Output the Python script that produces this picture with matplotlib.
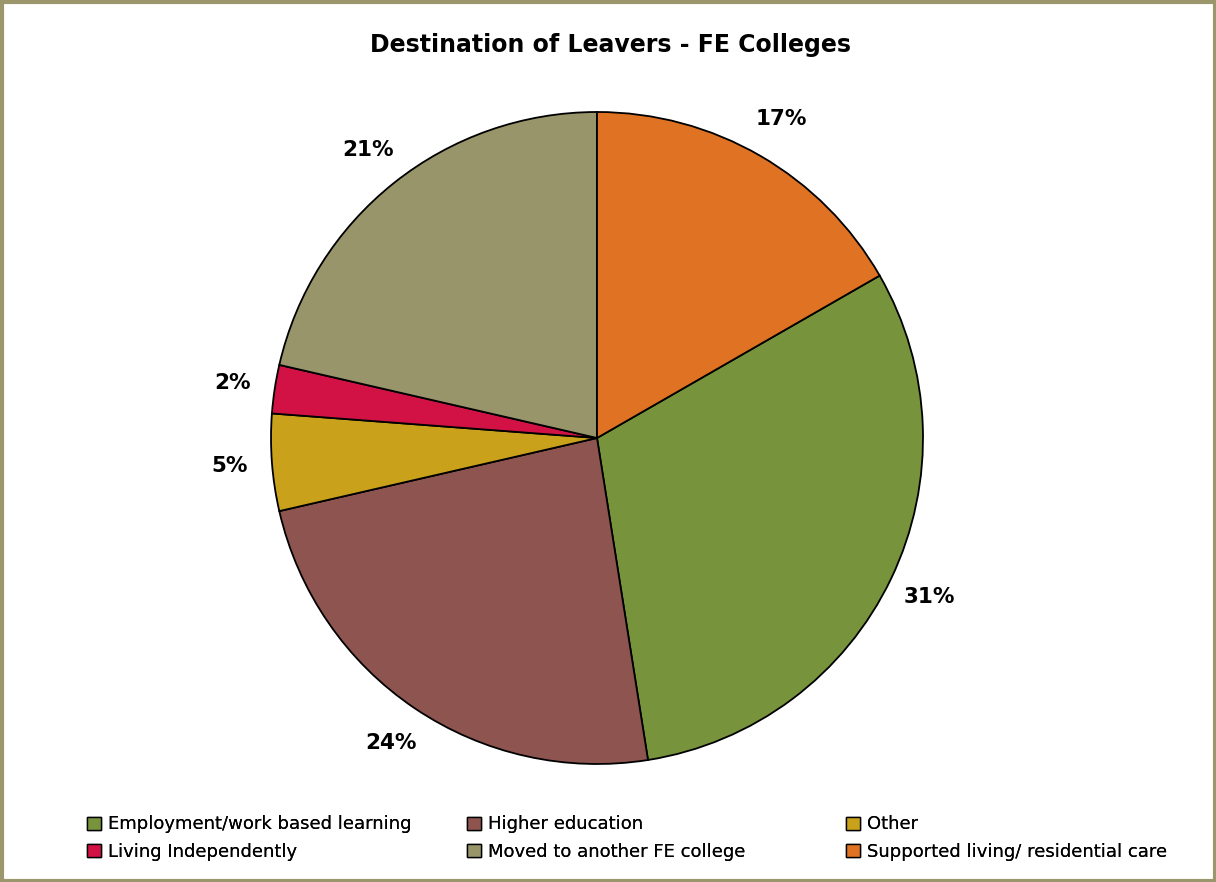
import matplotlib
matplotlib.use("Agg")
import matplotlib.pyplot as plt
from matplotlib.patches import Patch, Rectangle

# destinations, in legend order
categories = [
    "Employment/work based learning",
    "Higher education",
    "Other",
    "Living Independently",
    "Moved to another FE college",
    "Supported living/ residential care",
]
values = [30.8, 23.9, 4.8, 2.4, 21.4, 16.7]
labels = ["31%", "24%", "5%", "2%", "21%", "17%"]
colors = ["#77933c", "#8e5450", "#c9a11b", "#d21245", "#98956a", "#e07224"]

W, H = 1216, 882
fig = plt.figure(figsize=(W / 100, H / 100), dpi=100)
fig.patch.set_facecolor("white")

# olive frame round the chart area
fig.add_artist(Rectangle((1.5 / W, 1.5 / H), 1 - 3 / W, 1 - 3 / H,
                         transform=fig.transFigure, fill=False,
                         edgecolor="#9b966b", linewidth=3))

fig.text(611 / W, 1 - 45 / H, "Destination of Leavers - FE Colleges",
         ha="center", va="center", fontsize=17, fontweight="bold")

cx, cy, r = 597, 438, 326
ax = fig.add_axes([(cx - r) / W, (H - cy - r) / H, 2 * r / W, 2 * r / H])

# Supported living slice ends at 12 o'clock
start = 90 - 360 * values[-1] / sum(values)
wedges, texts = ax.pie(
    values, colors=colors, labels=labels, startangle=start,
    counterclock=False, radius=1, labeldistance=1.13,
    wedgeprops=dict(edgecolor="black", linewidth=1.3),
    textprops=dict(fontsize=15.5, fontweight="bold"),
)
for t in texts:
    t.set_ha("center")
    t.set_va("center")
ax.set_xlim(-1, 1)
ax.set_ylim(-1, 1)
ax.axis("off")

handles = [Patch(facecolor=c, edgecolor="black", linewidth=1) for c in colors]
col_x = [80, 460, 839]
for j, x in enumerate(col_x):
    idx = [j, j + 3]
    leg = fig.legend([handles[i] for i in idx], [categories[i] for i in idx],
                     ncol=1, loc="center left",
                     bbox_to_anchor=(x / W, 1 - 838 / H), borderaxespad=0,
                     frameon=False, fontsize=13, handlelength=0.75,
                     handleheight=0.75, handletextpad=0.4, labelspacing=0.5)
    fig.add_artist(leg)

fig.savefig("out.png", dpi=100)
